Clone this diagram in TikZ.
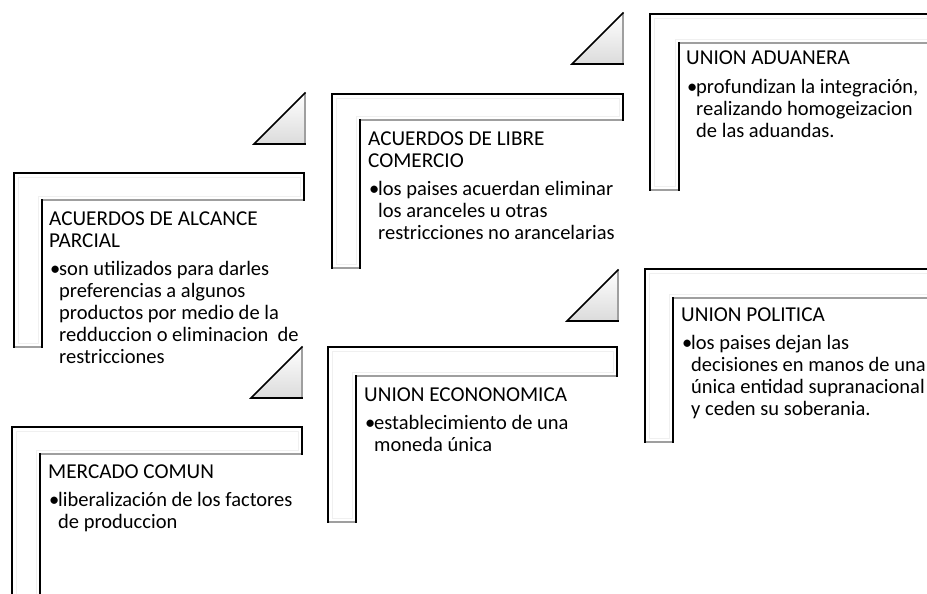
\documentclass[tikz,border=0pt]{standalone}
\usepackage{fontspec}
\setmainfont{Carlito}
\tikzset{
  stepfill/.style={fill=white},
  edgeblack/.style={draw=black, line width=1.6pt, line join=miter, line cap=rect},
  edgegray/.style={draw=gray!75, line width=1.2pt},
  bevel/.style={draw=gray!12, line width=0.8pt},
  trishade/.style={top color=white, bottom color=gray!28},
  stepbox/.style={anchor=base west, inner sep=0pt, font=\fontsize{20.5}{22}\selectfont},
}
\newcommand{\lstep}[6]{%
  \fill[stepfill] (#1,#2) -- (#3,#2) -- (#3,#4) -- (#5,#4) -- (#5,#6) -- (#1,#6) -- cycle;
  \draw[bevel] ({#1+4},{#2+4}) -- ({#3-4},{#2+4}) -- ({#3-4},{#4-4}) -- ({#5-4},{#4-4}) -- ({#5-4},{#6-4}) -- ({#1+4},{#6-4}) -- cycle;
  \draw[edgegray] (#3,#4) -- (#5,#4);
  \draw[edgegray] (#5,#6) -- (#1,#6);
  \draw[edgeblack] (#1,#6) -- (#1,#2) -- (#3,#2) -- (#3,#4);
  \draw[edgeblack] (#5,#4) -- (#5,#6);
}
\newcommand{\tristep}[2]{%
  \shade[trishade] ({#1-51},#2) -- (#1,{#2-51}) -- (#1,#2) -- cycle;
  \draw[edgegray] (#1,{#2-51}) -- (#1,#2);
  \draw[edgeblack, line join=miter] (#1,{#2-51}) -- ({#1-51},#2) -- (#1,#2);
}
\newcommand{\txtlines}[1]{\vtop{\baselineskip=22pt\lineskiplimit=-100pt\lineskip=0pt #1}}
\newcommand{\hl}[1]{\hbox{\fontsize{21.2}{22}\selectfont #1}}
\newcommand{\bl}[1]{\hbox{\makebox[10pt][l]{\hspace{0.8pt}•}#1}}
\newcommand{\cl}[1]{\hbox{\hspace*{10pt}#1}}
\newcommand{\gap}{\vskip 6.5pt}
\begin{document}
\begin{tikzpicture}[x=1pt,y=-1pt]
\useasboundingbox (0,0) rectangle (927,594);
\fill[white] (0,0) rectangle (927,594);
\clip (0,0) rectangle (927,594);

% steps
\lstep{14}{173}{304}{200}{42}{347}
\lstep{332}{94}{623}{120}{360}{268}
\lstep{650}{14}{940}{43}{679}{190}
\lstep{12}{427}{302}{454}{40}{610}
\lstep{328}{347}{617}{376}{356}{522}
\lstep{645}{269}{935}{298}{673}{442}

% triangles
\tristep{305}{144}
\tristep{623}{64}
\tristep{302}{398}
\tristep{618}{321}

% texts
\node[stepbox] (tA) at (49,225) {\txtlines{%
  \hl{ACUERDOS DE ALCANCE}\hl{PARCIAL}\gap
  \bl{son utilizados para darles}
  \cl{preferencias a algunos}
  \cl{productos por medio de la}
  \cl{redduccion o eliminacion\ \ de}
  \cl{restricciones}}};
\node[stepbox] (tB) at (368,145) {\txtlines{%
  \hl{ACUERDOS DE LIBRE}\hl{COMERCIO}\gap
  \bl{los paises acuerdan eliminar}
  \cl{los aranceles u otras}
  \cl{restricciones no arancelarias}}};
\node[stepbox] (tC) at (686,65) {\txtlines{%
  \hl{UNION ADUANERA}\gap
  \bl{profundizan la integración,}
  \cl{realizando homogeizacion}
  \cl{de las aduandas.}}};
\node[stepbox] (tD) at (48,478) {\txtlines{%
  \hl{MERCADO COMUN}\gap
  \bl{liberalización de los factores}
  \cl{de produccion}}};
\node[stepbox] (tE) at (364,401) {\txtlines{%
  \hl{UNION ECONONOMICA}\gap
  \bl{establecimiento de una}
  \cl{moneda única}}};
\node[stepbox] (tF) at (681,321) {\txtlines{%
  \hl{UNION POLITICA}\gap
  \bl{los paises dejan las}
  \cl{decisiones en manos de una}
  \cl{única entidad supranacional}
  \cl{y ceden su soberania.}}};
\end{tikzpicture}
\end{document}
